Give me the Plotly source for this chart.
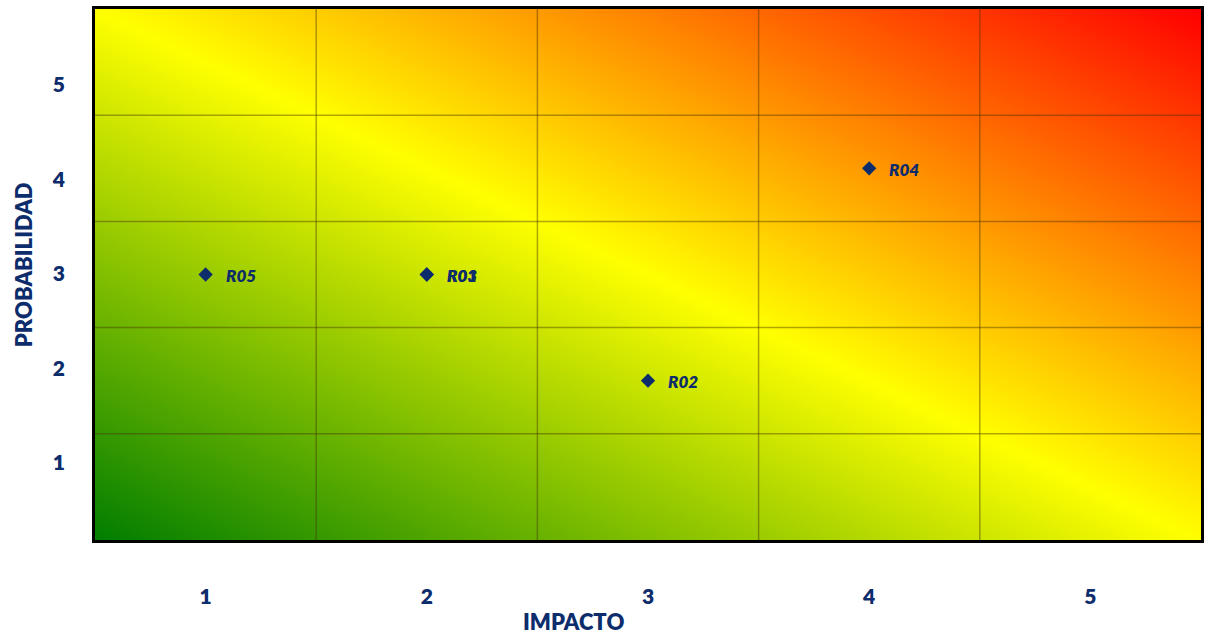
import numpy as np
import plotly.graph_objects as go

# ---- data ----
risk_ids = ["R01", "R02", "R03", "R04", "R05"]
impact = [2, 3, 2, 4, 1]
probability = [3, 2, 3, 4, 3]
levels = [1, 2, 3, 4, 5]
tick_labels = ["1", "2", "3", "4", "5"]
x_title = "IMPACTO"
y_title = "PROBABILIDAD"

# background gradient colours (green -> yellow -> red)
gradient_scale = [[0.0, "rgb(0,125,0)"], [0.5, "rgb(255,255,0)"], [1.0, "rgb(255,0,0)"]]

NAVY = "#0c2c6c"
FONT = "Lato"
W = 800

lo, hi = levels[0] - 0.5, levels[-1] + 0.5
nx, ny = 220, 110
xs = lo + (np.arange(nx) + 0.5) * (hi - lo) / nx
ys = lo + (np.arange(ny) + 0.5) * (hi - lo) / ny
U, V = np.meshgrid((xs - lo) / (hi - lo), (ys - lo) / (hi - lo))
Z = U + V

fig = go.Figure()
fig.add_trace(go.Heatmap(x=xs, y=ys, z=Z, colorscale=gradient_scale, zmin=0, zmax=2,
                         zsmooth="best", showscale=False, hoverinfo="skip"))

fig.add_trace(go.Scatter(x=impact, y=probability, mode="markers",
                         marker=dict(symbol="diamond", size=11, color=NAVY),
                         text=risk_ids, hoverinfo="text", showlegend=False))

# point labels
for rid, xi, yi in zip(risk_ids, impact, probability):
    fig.add_annotation(x=xi, y=yi, xref="x", yref="y", text=rid,
                       showarrow=False, xanchor="left", yanchor="middle", xshift=18, yshift=-1,
                       font=dict(family=FONT, size=17, color=NAVY, weight=W, style="italic"))

# cell grid lines
grid_col = "rgba(70,50,0,0.42)"
for k in levels[:-1]:
    fig.add_shape(type="line", x0=k + 0.5, x1=k + 0.5, y0=lo, y1=hi, xref="x", yref="y",
                  line=dict(color=grid_col, width=1.5), layer="above")
    fig.add_shape(type="line", y0=k + 0.5, y1=k + 0.5, x0=lo, x1=hi, xref="x", yref="y",
                  line=dict(color=grid_col, width=1.5), layer="above")

# a dummy trace on the label axis so it renders
fig.add_trace(go.Scatter(x=[None], y=[None], yaxis="y2", showlegend=False, hoverinfo="skip"))

fig.update_layout(
    width=1208, height=636,
    margin=dict(l=95, r=4, t=9, b=96),
    paper_bgcolor="white", plot_bgcolor="white",
    showlegend=False,
    xaxis=dict(range=[lo, hi], tickvals=levels, ticktext=tick_labels, showgrid=False, zeroline=False,
               showline=True, linecolor="black", linewidth=3, mirror=True, ticks="",
               ticklabelstandoff=36,
               tickfont=dict(family=FONT, size=21, color=NAVY, weight=W)),
    yaxis=dict(range=[lo, hi], showticklabels=False, showgrid=False, zeroline=False,
               showline=True, linecolor="black", linewidth=3, mirror=True, ticks=""),
    yaxis2=dict(overlaying="y", side="left", range=[0.185, 5.805], tickvals=levels, ticktext=tick_labels,
                showgrid=False, zeroline=False, showline=False, ticks="", ticklabelstandoff=29,
                tickfont=dict(family=FONT, size=21, color=NAVY, weight=W)),
)

fig.add_annotation(x=0.433, y=-0.154, xref="paper", yref="paper", text=x_title,
                   showarrow=False, xanchor="center", yanchor="middle",
                   font=dict(family=FONT, size=22, color=NAVY, weight=W))
fig.add_annotation(x=-0.064, y=0.518, xref="paper", yref="paper", text=y_title,
                   showarrow=False, xanchor="center", yanchor="middle", textangle=-90,
                   font=dict(family=FONT, size=22, color=NAVY, weight=W))

fig.write_html("out.html")
